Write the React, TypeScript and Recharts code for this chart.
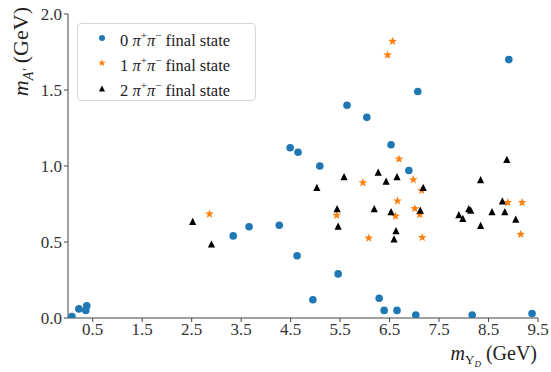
import React from "react";
import { ScatterChart, Scatter, XAxis, YAxis } from "recharts";

// 0 pi+pi- final state
const zeroPiX = [0.08, 0.22, 0.36, 0.38, 3.34, 3.66, 4.27, 4.49, 4.65, 4.63, 4.95, 5.09, 5.46, 5.64, 6.04, 6.29, 6.39, 6.53, 6.65, 6.89, 7.07, 7.03, 8.17, 8.91, 9.38];
const zeroPiY = [0.01, 0.06, 0.05, 0.08, 0.54, 0.60, 0.61, 1.12, 1.09, 0.41, 0.12, 1.00, 0.29, 1.40, 1.32, 0.13, 0.05, 1.14, 0.05, 0.97, 1.49, 0.02, 0.02, 1.70, 0.03];

// 1 pi+pi- final state
const onePiX = [2.86, 5.43, 5.96, 6.08, 6.46, 6.56, 6.62, 6.66, 6.69, 6.98, 7.01, 7.11, 7.15, 7.16, 8.89, 9.18, 9.15];
const onePiY = [0.684, 0.676, 0.89, 0.526, 1.73, 1.82, 0.67, 0.77, 1.046, 0.91, 0.72, 0.68, 0.84, 0.53, 0.76, 0.76, 0.55];

// 2 pi+pi- final state
const twoPiX = [2.52, 2.90, 5.03, 5.44, 5.46, 5.58, 6.19, 6.27, 6.43, 6.53, 6.59, 6.63, 6.65, 7.12, 7.18, 7.90, 7.98, 8.10, 8.14, 8.34, 8.34, 8.57, 8.78, 8.83, 8.87, 9.05];
const twoPiY = [0.636, 0.487, 0.86, 0.72, 0.605, 0.93, 0.72, 0.96, 0.90, 0.70, 0.52, 0.575, 0.93, 0.71, 0.86, 0.68, 0.656, 0.72, 0.71, 0.61, 0.91, 0.70, 0.77, 0.70, 1.044, 0.65];

const xTicks = [0.5, 1.5, 2.5, 3.5, 4.5, 5.5, 6.5, 7.5, 8.5, 9.5];
const yTicks = [0, 0.5, 1.0, 1.5, 2.0];

const BLUE = "#1f77b4";
const ORANGE = "#ff7f0e";
const SERIF = "Liberation Serif, DejaVu Serif, serif";

const zip = (xs: number[], ys: number[]) => xs.map((x, i) => ({ x, y: ys[i] }));

function starPath(cx: number, cy: number, R: number, r: number) {
  let d = "";
  for (let i = 0; i < 10; i++) {
    const rad = i % 2 === 0 ? R : r;
    const a = -Math.PI / 2 + (i * Math.PI) / 5;
    d += (i === 0 ? "M" : "L") + (cx + rad * Math.cos(a)).toFixed(2) + "," + (cy + rad * Math.sin(a)).toFixed(2);
  }
  return d + "Z";
}

const triPath = (cx: number, cy: number, h: number) =>
  `M${cx},${cy - h} L${cx + h},${cy + h} L${cx - h},${cy + h} Z`;

const DotShape = (p: any) => <circle cx={p.cx} cy={p.cy} r={3.8} fill={BLUE} />;
const StarShape = (p: any) => <path d={starPath(p.cx, p.cy, 4.6, 1.9)} fill={ORANGE} />;
const TriShape = (p: any) => <path d={triPath(p.cx, p.cy, 3.6)} fill="#000" />;

function Pi() {
  return (
    <>
      <i>π</i>
      <sup style={{ fontSize: 11 }}>+</sup>
      <i>π</i>
      <sup style={{ fontSize: 11 }}>−</sup>
    </>
  );
}

function LegendBox() {
  const rows = [
    { n: 0, icon: <circle cx={6} cy={6} r={3} fill={BLUE} /> },
    { n: 1, icon: <path d={starPath(6, 6, 3.8, 1.6)} fill={ORANGE} /> },
    { n: 2, icon: <path d={triPath(6, 6.5, 3)} fill="#000" /> },
  ];
  return (
    <div
      style={{
        position: "absolute",
        left: 77,
        top: 23,
        width: 177,
        height: 75,
        border: "1px solid #d6d6d6",
        borderRadius: 4,
        background: "rgba(255,255,255,0.8)",
        paddingTop: 1,
        fontFamily: SERIF,
        fontSize: 16.5,
        color: "#222",
      }}
    >
      {rows.map((r) => (
        <div key={r.n} style={{ height: 25, display: "flex", alignItems: "center", lineHeight: "25px" }}>
          <svg width={12} height={12} style={{ marginLeft: 18, marginRight: 12 }}>
            {r.icon}
          </svg>
          <span style={{ whiteSpace: "nowrap" }}>
            {r.n} <Pi /> final state
          </span>
        </div>
      ))}
    </div>
  );
}

const tickStyle = { fontSize: 17, fill: "#333", fontFamily: SERIF };

export default function App() {
  return (
    <div style={{ position: "absolute", left: 0, top: 0, width: 551, height: 372, background: "#fff" }}>
      <ScatterChart width={551} height={372} margin={{ top: 14, right: 13, bottom: 0, left: 0 }}>
        <XAxis
          type="number"
          dataKey="x"
          domain={[0, 9.5]}
          ticks={xTicks}
          allowDataOverflow
          tickFormatter={(v: number) => v.toFixed(1)}
          height={54}
          tickSize={4}
          tickMargin={1}
          tick={tickStyle}
          stroke="#444"
        />
        <XAxis xAxisId="top" orientation="top" type="number" domain={[0, 9.5]} tick={false} tickLine={false} height={0} stroke="#555" />
        <YAxis
          type="number"
          dataKey="y"
          domain={[0, 2]}
          ticks={yTicks}
          allowDataOverflow
          tickFormatter={(v: number) => v.toFixed(1)}
          width={68}
          tickSize={4}
          tickMargin={2}
          tick={tickStyle}
          stroke="#444"
        />
        <YAxis yAxisId="right" orientation="right" type="number" domain={[0, 2]} tick={false} tickLine={false} width={0} stroke="#555" />
        <Scatter name="0" data={zip(zeroPiX, zeroPiY)} shape={DotShape} isAnimationActive={false} />
        <Scatter name="1" data={zip(onePiX, onePiY)} shape={StarShape} isAnimationActive={false} />
        <Scatter name="2" data={zip(twoPiX, twoPiY)} shape={TriShape} isAnimationActive={false} />
      </ScatterChart>
      <LegendBox />
      <svg width={551} height={372} style={{ position: "absolute", left: 0, top: 0, pointerEvents: "none" }}>
        <text transform="translate(28,7) rotate(-90)" textAnchor="end" fontFamily={SERIF} fontSize={22} fill="#222">
          <tspan fontStyle="italic">m</tspan>
          <tspan fontStyle="italic" fontSize={14} dy={5}>A′</tspan>
          <tspan dy={-5}> (GeV)</tspan>
        </text>
        <text x={537} y={360} textAnchor="end" fontFamily={SERIF} fontSize={20} fill="#222">
          <tspan fontStyle="italic">m</tspan>
          <tspan fontSize={13} dy={4}>Υ</tspan>
          <tspan fontStyle="italic" fontSize={9} dy={3}>D</tspan>
          <tspan dy={-7}> (GeV)</tspan>
        </text>
      </svg>
    </div>
  );
}
